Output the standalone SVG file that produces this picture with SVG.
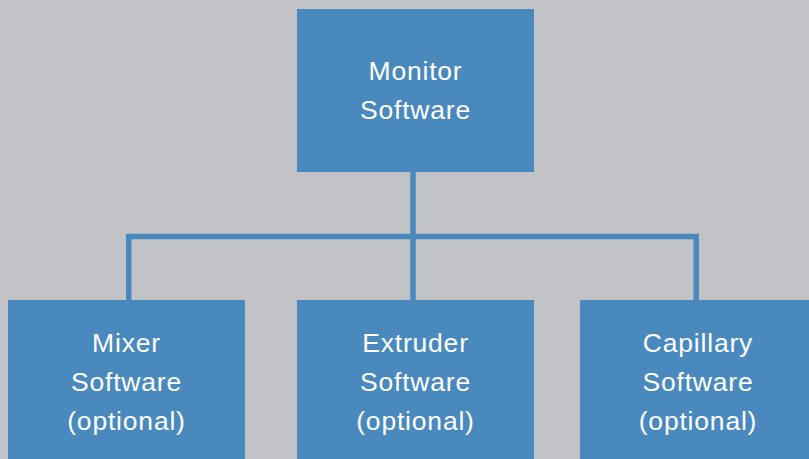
<svg xmlns="http://www.w3.org/2000/svg" width="809" height="459" viewBox="0 0 809 459">
<style>
.box{fill:#4a89be}
.lbl{fill:#ffffff;font-family:"Liberation Sans",Arial,sans-serif;font-size:26.5px;letter-spacing:0.8px;text-anchor:middle}
.conn{fill:none;stroke:#4a89be;stroke-width:5.5;stroke-linejoin:miter;stroke-linecap:butt}
</style>
<rect width="809" height="459" fill="#c2c3c6"/>
<g id="connectors">
<path class="conn" d="M413 171 V236.5"/>
<path class="conn" d="M128.7 300 V236.5 H696.2 V300"/>
<path class="conn" d="M413 236.5 V300"/>
</g>
<g id="monitor">
<rect class="box" x="297" y="9" width="237" height="163"/>
<text class="lbl" x="415.5" y="80">Monitor</text>
<text class="lbl" x="415.5" y="119">Software</text>
</g>
<g id="mixer">
<rect class="box" x="8" y="300" width="237" height="159"/>
<text class="lbl" x="126.5" y="352">Mixer</text>
<text class="lbl" x="126.5" y="391">Software</text>
<text class="lbl" x="126.5" y="430">(optional)</text>
</g>
<g id="extruder">
<rect class="box" x="297" y="300" width="237" height="159"/>
<text class="lbl" x="415.5" y="352">Extruder</text>
<text class="lbl" x="415.5" y="391">Software</text>
<text class="lbl" x="415.5" y="430">(optional)</text>
</g>
<g id="capillary">
<rect class="box" x="580" y="300" width="229" height="159"/>
<text class="lbl" x="698" y="352">Capillary</text>
<text class="lbl" x="698" y="391">Software</text>
<text class="lbl" x="698" y="430">(optional)</text>
</g>
</svg>
